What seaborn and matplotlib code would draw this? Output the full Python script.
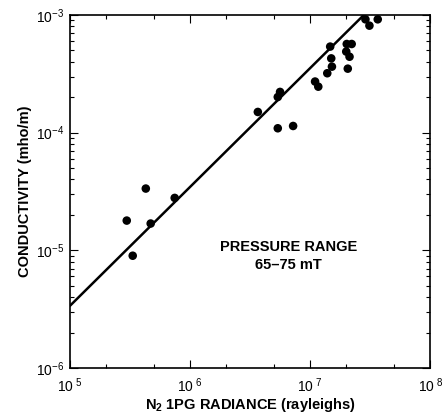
import matplotlib
matplotlib.use("Agg")
import matplotlib.pyplot as plt
import matplotlib.ticker as mticker
import seaborn as sns
import pandas as pd

# データ
radiance = [2.97e5, 3.33e5, 4.28e5, 4.70e5, 7.45e5, 3.67e6, 5.38e6, 5.38e6,
            5.62e6, 7.22e6, 1.10e7, 1.17e7, 1.39e7, 1.47e7, 1.50e7, 1.52e7,
            2.00e7, 2.02e7, 2.22e7, 2.13e7, 2.06e7, 2.89e7, 3.12e7, 3.66e7]
conductivity = [1.79e-5, 9.0e-6, 3.35e-5, 1.69e-5, 2.79e-5, 1.50e-4, 1.09e-4, 2.01e-4,
                2.22e-4, 1.14e-4, 2.72e-4, 2.46e-4, 3.20e-4, 5.39e-4, 4.28e-4, 3.64e-4,
                4.89e-4, 5.67e-4, 5.67e-4, 4.42e-4, 3.50e-4, 9.19e-4, 8.12e-4, 9.19e-4]
fit_x = [1e5, 2.8e7]
fit_y = [3.38e-6, 1e-3]

x_ticks = [1e5, 1e6, 1e7, 1e8]
x_ticklabels = ["10$^{\\ 5}$", "10$^{\\ 6}$", "10$^{\\ 7}$", "10$^{\\ 8}$"]
y_ticks = [1e-6, 1e-5, 1e-4, 1e-3]
y_ticklabels = ["10$^{-6}$", "10$^{-5}$", "10$^{-4}$", "10$^{-3}$"]

df = pd.DataFrame({"radiance": radiance, "conductivity": conductivity})
fit_df = pd.DataFrame({"x": fit_x, "y": fit_y})

# フォント設定
sns.set_style("ticks")
plt.rcParams["font.family"] = ["Liberation Sans", "DejaVu Sans"]
plt.rcParams["mathtext.fontset"] = "custom"
plt.rcParams["mathtext.rm"] = "Liberation Sans"
plt.rcParams["mathtext.it"] = "Liberation Sans"
plt.rcParams["mathtext.bf"] = "Liberation Sans:bold"
for k in ["text.color", "axes.labelcolor", "xtick.color", "ytick.color", "axes.edgecolor"]:
    plt.rcParams[k] = "black"

fig = plt.figure(figsize=(4.43, 4.17), dpi=100)
ax = fig.add_axes([0.158, 0.1175, 0.813, 0.8465])

sns.lineplot(data=fit_df, x="x", y="y", color="black", lw=1.8, ax=ax)
sns.scatterplot(data=df, x="radiance", y="conductivity", color="black",
                s=38, edgecolor="none", ax=ax, zorder=3)

ax.set_xscale("log")
ax.set_yscale("log")
ax.set_xlim(1e5, 1e8)
ax.set_ylim(1e-6, 1e-3)

ax.xaxis.set_major_locator(mticker.FixedLocator(x_ticks))
ax.xaxis.set_major_formatter(mticker.FixedFormatter(x_ticklabels))
ax.xaxis.set_minor_locator(mticker.LogLocator(base=10, subs=[2, 5], numticks=20))
ax.xaxis.set_minor_formatter(mticker.NullFormatter())
ax.yaxis.set_major_locator(mticker.FixedLocator(y_ticks))
ax.yaxis.set_major_formatter(mticker.FixedFormatter(y_ticklabels))
ax.yaxis.set_minor_locator(mticker.LogLocator(base=10, subs=range(2, 10), numticks=20))
ax.yaxis.set_minor_formatter(mticker.NullFormatter())

ax.tick_params(which="both", direction="in", top=True, right=True, width=0.8, color="black")
ax.tick_params(which="major", length=6, labelsize=10)
ax.tick_params(axis="x", which="major", pad=6)
ax.tick_params(axis="y", which="major", pad=4)
ax.tick_params(which="minor", length=3)
for s in ax.spines.values():
    s.set_linewidth(1.2)
    s.set_color("black")

ax.set_xlabel("N$_{\\mathbf{2}}$ 1PG RADIANCE (rayleighs)", fontsize=10.5, fontweight="bold", labelpad=1)
ax.set_ylabel("CONDUCTIVITY (mho/m)", fontsize=10.5, fontweight="bold", labelpad=3)

ax.text(6.6e6, 9.0e-6, "PRESSURE RANGE\n65\u201375 mT", ha="center", va="center",
        fontsize=10.5, fontweight="bold", linespacing=1.35)

fig.savefig("out.png", dpi=100)
